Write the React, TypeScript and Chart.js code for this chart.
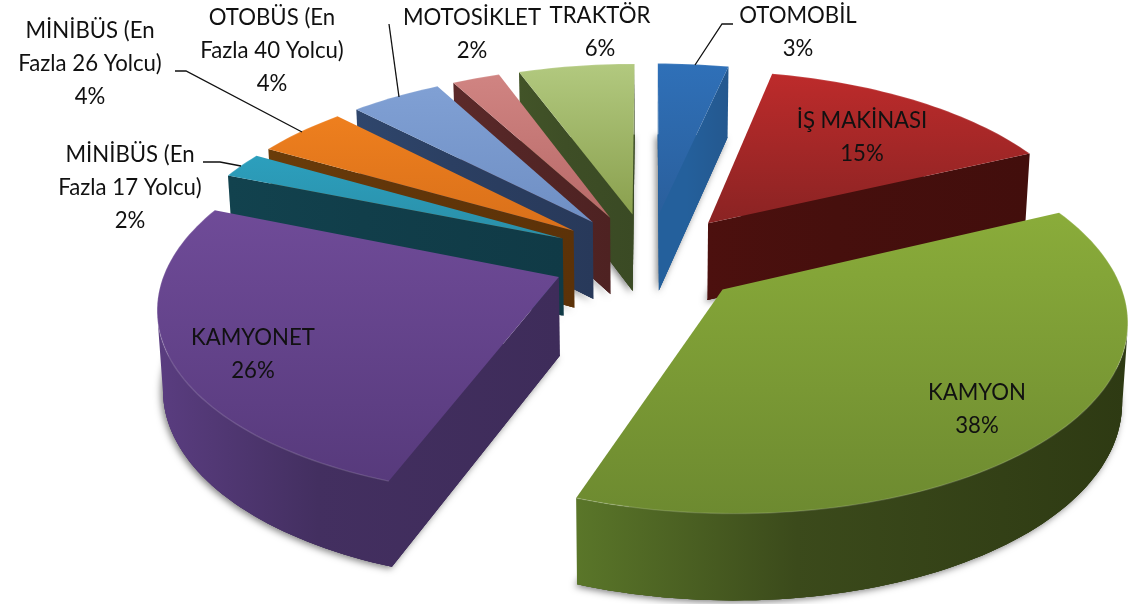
import React, { useEffect, useRef } from "react";
import { Chart, registerables } from "chart.js";

Chart.register(...registerables);

const categories = ["OTOMOBİL", "İŞ MAKİNASI", "KAMYON", "KAMYONET", "MİNİBÜS (En Fazla 17 Yolcu)", "MİNİBÜS (En Fazla 26 Yolcu)", "OTOBÜS (En Fazla 40 Yolcu)", "MOTOSİKLET", "TRAKTÖR"];
const shares = [3.4, 14.6, 37.5, 25.5, 2.2, 4.4, 4.4, 2.3, 5.6];
const percentLabels = ["3%", "15%", "38%", "26%", "2%", "4%", "4%", "2%", "6%"];
const faceLight = ["#2f70b8", "#bd2b2b", "#8aac3a", "#6f4b98", "#2c9fbd", "#ee7f1e", "#80a0d4", "#d08482", "#b2c97f"];
const faceDark = ["#2a5f9c", "#8a2323", "#6d8a30", "#573a7c", "#2a8fa8", "#d9701a", "#6f8fc4", "#b86a68", "#8aa04e"];
const wallLeft = ["#24609c", "#4c100e", "#5a7629", "#5a3d80", "#12424e", "#6a3c0a", "#2f466c", "#5c2a2a", "#425428"];
const wallMid = ["#24609c", "#460f0d", "#3b4a1b", "#432f60", "#113e4a", "#623609", "#2b3f62", "#542626", "#3e4e26"];
const wallRight = ["#24588f", "#420e0c", "#2e3a13", "#3e2c5a", "#103a46", "#5c3208", "#28395a", "#4e2222", "#3a4a24"];

const camera = { cx: 649, cy: 258, rx: 390, ry: 183, persp: 0.14, depth: 78, depthPersp: 0.6, shrink: 0.012 };
const FONT = '22.2px Lato, "Open Sans", sans-serif';

type TextItem = { lines: string[]; x: number; y: number };
const textItems: TextItem[] = [
  { lines: ["OTOMOBİL", percentLabels[0]], x: 798, y: 16 },
  { lines: ["İŞ MAKİNASI", percentLabels[1]], x: 862, y: 121 },
  { lines: ["KAMYON", percentLabels[2]], x: 977, y: 393 },
  { lines: ["KAMYONET", percentLabels[3]], x: 253, y: 338 },
  { lines: ["MİNİBÜS (En", "Fazla 17 Yolcu)", percentLabels[4]], x: 130, y: 155 },
  { lines: ["MİNİBÜS (En", "Fazla 26 Yolcu)", percentLabels[5]], x: 90, y: 31 },
  { lines: ["OTOBÜS (En", "Fazla 40 Yolcu)", percentLabels[6]], x: 272, y: 18 },
  { lines: ["MOTOSİKLET", percentLabels[7]], x: 472, y: 18 },
  { lines: ["TRAKTÖR", percentLabels[8]], x: 600, y: 16 },
];
const leaders: number[][] = [
  [733, 24, 722, 24, 695, 65],
  [203, 162, 220, 162, 241, 166],
  [175, 71, 186, 71, 302, 132],
  [389, 24, 399, 97],
];

function project(u: number, v: number, z: number): [number, number] {
  const w = 1 - camera.persp * v;
  const x = camera.cx + ((camera.rx * u) / w) * (1 - camera.shrink * z);
  const y = camera.cy + (camera.ry * v) / w + (z * camera.depth) / Math.pow(w, camera.depthPersp);
  return [x, y];
}

function fillPoly(ctx: CanvasRenderingContext2D, pts: [number, number][]) {
  ctx.beginPath();
  pts.forEach((p, i) => (i ? ctx.lineTo(p[0], p[1]) : ctx.moveTo(p[0], p[1])));
  ctx.closePath();
  ctx.fill();
}

function area(pts: [number, number][]) {
  let a = 0;
  for (let i = 0; i < pts.length; i++) {
    const [x1, y1] = pts[i];
    const [x2, y2] = pts[(i + 1) % pts.length];
    a += x1 * y2 - x2 * y1;
  }
  return a / 2;
}

const pie3d = {
  id: "pie3d",
  beforeDatasetsDraw(chart: any) {
    const ctx: CanvasRenderingContext2D = chart.ctx;
    const arcs = chart.getDatasetMeta(0).data;
    const slices = arcs.map((arc: any, i: number) => {
      const a0 = arc.startAngle + Math.PI / 2;
      const a1 = arc.endAngle + Math.PI / 2;
      const mid = (a0 + a1) / 2;
      const off = (arc.options.offset || 0) / arc.outerRadius;
      const ou = off * Math.sin(mid);
      const ov = -off * Math.cos(mid);
      return { i, a0, a1, ou, ov };
    });
    slices.sort((p: any, q: any) => p.ov - q.ov);

    ctx.save();
    for (const s of slices) {
      const steps = Math.max(6, Math.ceil((s.a1 - s.a0) * 40));
      const rim: [number, number][] = [];
      const base: [number, number][] = [];
      for (let k = 0; k <= steps; k++) {
        const t = s.a0 + ((s.a1 - s.a0) * k) / steps;
        const u = s.ou + Math.sin(t);
        const v = s.ov - Math.cos(t);
        rim.push(project(u, v, 0));
        base.push(project(u, v, 1));
      }
      const apexTop = project(s.ou, s.ov, 0);
      const apexBase = project(s.ou, s.ov, 1);
      const all = [...rim, ...base, apexTop, apexBase];
      const xs = all.map((p) => p[0]);
      const minX = Math.min(...xs);
      const maxX = Math.max(...xs);
      const wallGrad = ctx.createLinearGradient(minX, 0, maxX, 0);
      wallGrad.addColorStop(0, wallLeft[s.i]);
      wallGrad.addColorStop(0.4, wallMid[s.i]);
      wallGrad.addColorStop(1, wallRight[s.i]);

      // soft contact shadow under the slice
      ctx.save();
      ctx.shadowColor = "rgba(0,0,0,0.5)";
      ctx.shadowBlur = 7;
      ctx.shadowOffsetX = -2;
      ctx.shadowOffsetY = 2;
      ctx.fillStyle = wallRight[s.i];
      fillPoly(ctx, [apexBase, ...base]);
      ctx.restore();

      ctx.fillStyle = wallGrad;
      fillPoly(ctx, [apexBase, ...base]);
      // radial walls
      const walls: [number, number][][] = [
        [apexTop, apexBase, base[0], rim[0]],
        [rim[steps], base[steps], apexBase, apexTop],
      ];
      for (const w of walls) {
        if (area(w) > 0) fillPoly(ctx, w);
      }
      // outer wall: one polygon along the part of the rim that faces the viewer
      const shown: number[] = [];
      for (let k = 0; k <= steps; k++) {
        const a = k < steps ? k : k - 1;
        if (area([rim[a], base[a], base[a + 1], rim[a + 1]]) > 0) shown.push(k);
      }
      if (shown.length > 1) {
        fillPoly(ctx, [...shown.map((k) => rim[k]), ...shown.slice().reverse().map((k) => base[k])]);
      }
      // top face
      const ys = [...rim, apexTop].map((p) => p[1]);
      const topGrad = ctx.createLinearGradient(0, Math.min(...ys), 0, Math.max(...ys));
      topGrad.addColorStop(0, faceLight[s.i]);
      topGrad.addColorStop(1, faceDark[s.i]);
      ctx.fillStyle = topGrad;
      fillPoly(ctx, [apexTop, ...rim]);
      ctx.strokeStyle = "rgba(255,255,255,0.14)";
      ctx.lineWidth = 1.4;
      ctx.beginPath();
      rim.forEach((p, k) => (k ? ctx.lineTo(p[0], p[1]) : ctx.moveTo(p[0], p[1])));
      ctx.stroke();
    }

    ctx.strokeStyle = "#111";
    ctx.lineWidth = 1.3;
    for (const l of leaders) {
      ctx.beginPath();
      ctx.moveTo(l[0], l[1]);
      for (let i = 2; i < l.length; i += 2) ctx.lineTo(l[i], l[i + 1]);
      ctx.stroke();
    }

    ctx.font = FONT;
    ctx.fillStyle = "#111";
    ctx.textAlign = "center";
    ctx.textBaseline = "middle";
    for (const t of textItems) {
      t.lines.forEach((line, i) => ctx.fillText(line, t.x, t.y + i * 33));
    }
    ctx.restore();
    return false;
  },
};

export default function App() {
  const ref = useRef<HTMLCanvasElement>(null);
  useEffect(() => {
    const chart = new Chart(ref.current as HTMLCanvasElement, {
      type: "pie",
      data: {
        labels: categories,
        datasets: [{ data: shares, backgroundColor: faceLight, borderWidth: 0, offset: 67 }],
      },
      options: {
        animation: false,
        responsive: false,
        rotation: 0,
        plugins: { legend: { display: false }, tooltip: { enabled: false } },
      },
      plugins: [pie3d],
    } as any);
    return () => chart.destroy();
  }, []);
  return (
    <div style={{ position: "fixed", left: 0, top: 0, width: 1130, height: 604, background: "#fff" }}>
      <canvas ref={ref} width={1130} height={604} style={{ display: "block" }} />
    </div>
  );
}
